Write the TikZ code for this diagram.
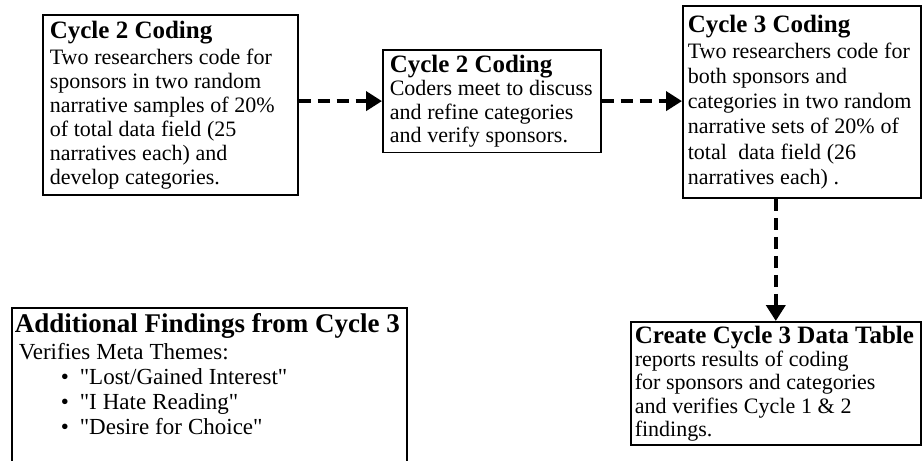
\documentclass[tikz,border=0pt]{standalone}
\usepackage{fontspec}
\setmainfont{Liberation Serif}
\usetikzlibrary{arrows.meta}
\tikzset{
  box/.style={draw=black, line width=1.6pt, anchor=north west, align=left, fill=white},
  flow/.style={line width=4pt, dash pattern=on 12pt off 7pt,
    -{Triangle[length=16pt,width=19pt]}},
}
\newcommand{\boxtitle}[2]{{\fontsize{#1}{#1}\selectfont\bfseries\spaceskip=0.25em\relax\mbox{#2}\par}}
\newcommand{\bodyfont}[2]{\fontsize{#1}{#2}\selectfont\spaceskip=0.26em\relax}
\newcommand{\tline}[1]{\mbox{#1}}
\newcommand{\qq}[1]{\textquotedbl #1\textquotedbl}
\begin{document}
\begin{tikzpicture}
\useasboundingbox (0,0) rectangle (922pt,-461pt);
\fill[white] (0,0) rectangle (922pt,-461pt);
\clip (0,0) rectangle (922pt,-461pt);

\node[box, inner xsep=7pt, inner ysep=6pt, text width=241pt] (b1) at (42pt,-14pt)
{\boxtitle{25}{Cycle 2 Coding}\vspace{2pt}\bodyfont{22}{24}\tline{Two researchers code for}\\
\tline{sponsors in two random}\\
\tline{narrative samples of 20\%}\\
\tline{of total data field (25}\\
\tline{narratives each) and}\\
\tline{develop categories.}\par};

\node[box, inner xsep=7pt, inner ysep=5pt, text width=204pt] (b2) at (382pt,-49pt)
{\boxtitle{25}{Cycle 2 Coding}\vspace{0pt}\bodyfont{22}{23.5}\tline{Coders meet to discuss}\\
\tline{and refine categories}\\
\tline{and verify sponsors.}\par};

\node[box, inner xsep=5pt, inner ysep=9pt, text width=228pt] (b3) at (682pt,-5pt)
{\boxtitle{25}{Cycle 3 Coding}\vspace{1pt}\bodyfont{22}{25.2}\tline{Two researchers code for}\\
\tline{both sponsors and}\\
\tline{categories in two random}\\
\tline{narrative sets of 20\% of}\\
\tline{total\ \ data field (26}\\
\tline{narratives each) .}\par};

\node[box, inner xsep=4pt, inner ysep=4pt, text width=282pt] (b4) at (630pt,-321pt)
{\boxtitle{25}{Create Cycle 3 Data Table}\vspace{0pt}\bodyfont{22}{23.3}\tline{reports results of coding}\\
\tline{for sponsors and categories}\\
\tline{and verifies Cycle 1 \& 2}\\
\tline{findings.}\par};

\node[box, inner xsep=3pt, inner ysep=6pt, text width=389pt, text depth=150pt] (b5) at (11pt,-307pt)
{\boxtitle{27}{Additional Findings from Cycle 3}\vspace{2pt}\bodyfont{23}{25}\hspace*{4pt}\tline{Verifies Meta Themes:}\\
\hspace*{46pt}\textbullet\hspace{11pt}\tline{\qq{Lost/Gained Interest}}\\
\hspace*{46pt}\textbullet\hspace{11pt}\tline{\qq{I Hate Reading}}\\
\hspace*{46pt}\textbullet\hspace{11pt}\tline{\qq{Desire for Choice}}\par};

\draw[flow] (b1.east |- b2.west) -- (b2.west);
\draw[flow] (b2.east) -- (b2.east -| b3.west);
\draw[flow] (b3.south -| b4.north) -- (b4.north);
\end{tikzpicture}
\end{document}
